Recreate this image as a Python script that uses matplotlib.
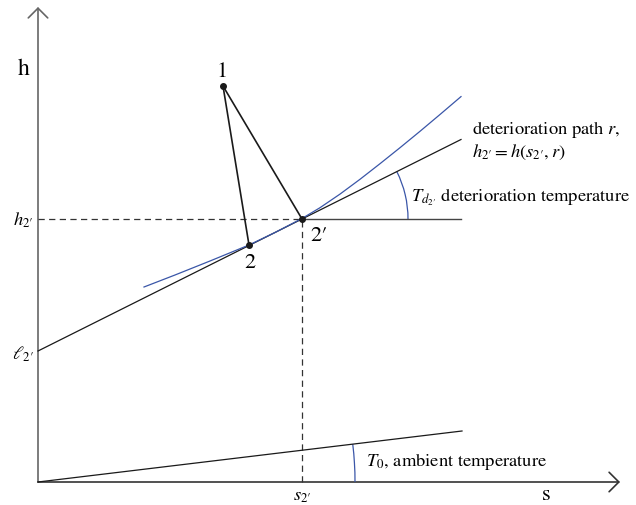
import numpy as np
import matplotlib
matplotlib.use('Agg')
import matplotlib.pyplot as plt
from matplotlib.patches import Arc, FancyArrowPatch

plt.rcParams['font.family'] = ['STIXGeneral', 'DejaVu Serif']
plt.rcParams['mathtext.fontset'] = 'stix'

# state points in the h-s diagram (s, h)
point_labels = ['1', '2', '2\u2032']
point_s = [18.5, 21.1, 26.4]
point_h = [39.6, 23.7, 26.3]

# deterioration path r through 2' (intercept l_2' on the h axis)
path_s = [0.0, 26.4, 42.3]
path_h = [13.1, 26.3, 34.25]

# ambient temperature line through the origin
ambient_s = [0.0, 42.4]
ambient_h = [0.0, 5.1]

# blue curve
curve_s = [10.6, 13.7, 17.2, 21.1, 23.7, 26.4, 28.2, 30.2, 32.2, 34.2, 36.2, 38.2, 40.2, 42.3]
curve_h = [19.5, 20.7, 22.1, 23.7, 24.95, 26.35, 27.43, 28.79, 30.27, 31.83, 33.43, 35.07, 36.75, 38.54]

s_axis_end = 58.2
h_axis_end = 47.5

blue = '#3a56a8'
fs = 13.3

fig = plt.figure(figsize=(6.36, 5.06), dpi=100)
ax = fig.add_axes([0, 0, 1, 1])
ax.set_xlim(-3.8, 59.8)
ax.set_ylim(-2.3, 48.3)
ax.axis('off')

# axes with open arrow heads
for end, col in [((0, h_axis_end), '#666666'), ((s_axis_end, 0), '#333333')]:
    arr = FancyArrowPatch((0, 0), end, arrowstyle='->,head_length=0.7,head_width=0.7',
                          mutation_scale=10, lw=1.2, color=col, shrinkA=0, shrinkB=0)
    ax.add_patch(arr)

s2, h2 = point_s[2], point_h[2]

# dashed guides to 2'
ax.plot([0, s2], [h2, h2], color='#333333', lw=0.9, ls=(0, (5, 3.5)))
ax.plot([s2, s2], [0, h2], color='#333333', lw=0.9, ls=(0, (5, 3.5)))

# horizontal reference through 2'
ax.plot([s2, path_s[-1]], [h2, h2], color='#444444', lw=1.0)

# deterioration path and ambient line
ax.plot(path_s, path_h, color='#1a1a1a', lw=0.9)
ax.plot(ambient_s, ambient_h, color='#1a1a1a', lw=0.9)

# blue curve
ax.plot(curve_s, curve_h, color=blue, lw=0.9)

# process lines 1 -> 2 and 1 -> 2'
ax.plot([point_s[0], point_s[1]], [point_h[0], point_h[1]], color='#1a1a1a', lw=1.2)
ax.plot([point_s[0], point_s[2]], [point_h[0], point_h[2]], color='#1a1a1a', lw=1.2)
ax.plot(point_s, point_h, 'o', color='#1a1a1a', ms=4, zorder=5)

# angle arcs
td_angle = np.degrees(np.arctan2(path_h[2] - path_h[1], path_s[2] - path_s[1]))
ax.add_patch(Arc((s2, h2), 21.2, 21.2, theta1=0, theta2=td_angle, color=blue, lw=0.9))
t0_angle = np.degrees(np.arctan2(ambient_h[1], ambient_s[1]))
ax.add_patch(Arc((0, 0), 63.4, 63.4, theta1=0, theta2=t0_angle, color=blue, lw=0.9))

# point labels
ax.text(18.4, 41.1, point_labels[0], fontsize=16, ha='center', va='center')
ax.text(21.2, 22.0, point_labels[1], fontsize=16, ha='center', va='center')
ax.text(27.2, 24.7, point_labels[2], fontsize=16, ha='left', va='center')

# axis labels
ax.text(-1.4, 41.4, 'h', fontsize=17, ha='center', va='center')
ax.text(50.8, -1.2, 's', fontsize=16, ha='center', va='center')
ax.text(-0.5, h2, r"$h_{2\prime}$", fontsize=fs, ha='right', va='center')
ax.text(-0.4, 12.9, r"$\ell_{2\prime}$", fontsize=fs, ha='right', va='center')
ax.text(s2, -1.4, r"$s_{2\prime}$", fontsize=fs, ha='center', va='center')

# annotations
ax.text(43.4, 35.3, r'deterioration path $r$,', fontsize=fs, ha='left', va='center')
ax.text(43.4, 33.1, r"$h_{2\prime} = h(s_{2\prime}, r)$", fontsize=fs, ha='left', va='center')
ax.text(37.3, 28.6, r"$T_{d_{2\prime}}$ deterioration temperature", fontsize=fs,
        ha='left', va='center')
ax.text(32.8, 2.1, r'$T_0$, ambient temperature', fontsize=fs, ha='left', va='center')

plt.savefig('out.png', dpi=100)
